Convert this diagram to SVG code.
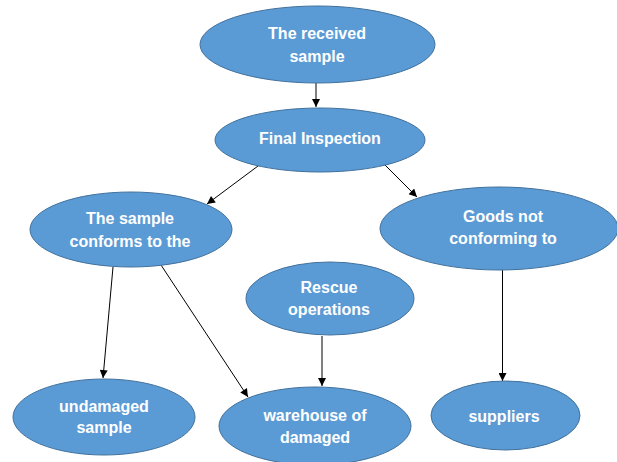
<svg xmlns="http://www.w3.org/2000/svg" width="617" height="462" viewBox="0 0 617 462">
<style>
.n{fill:#5B9BD5;stroke:#41719C;stroke-width:1}
.t{fill:#fff;font-family:"Liberation Sans",Arial,sans-serif;font-weight:bold;font-size:16px;text-anchor:middle}
.c{stroke:#000;stroke-width:1;fill:none;marker-end:url(#ah)}
</style>
<defs>
<marker id="ah" viewBox="0 0 10 10" refX="10" refY="5" markerWidth="9" markerHeight="8" markerUnits="userSpaceOnUse" orient="auto">
<path d="M0,0L10,5L0,10z" fill="#000"/>
</marker>
</defs>
<rect width="617" height="462" fill="#fff"/>
<g id="connectors">
<line class="c" x1="316" y1="83" x2="316" y2="107"/>
<line class="c" x1="258" y1="166" x2="207" y2="204"/>
<line class="c" x1="385" y1="165" x2="417" y2="197"/>
<line class="c" x1="113" y1="267" x2="103" y2="378"/>
<line class="c" x1="161" y1="265" x2="248" y2="397"/>
<line class="c" x1="322" y1="336" x2="322" y2="386"/>
<line class="c" x1="502.5" y1="270" x2="502.5" y2="381"/>
</g>
<g id="received">
<ellipse class="n" cx="317.5" cy="44.5" rx="117.5" ry="38.5"/>
<text class="t" x="317" y="39">The received</text>
<text class="t" x="317" y="62">sample</text>
</g>
<g id="final">
<ellipse class="n" cx="320" cy="140" rx="105" ry="32"/>
<text class="t" x="320" y="144">Final Inspection</text>
</g>
<g id="conforms">
<ellipse class="n" cx="131" cy="229.5" rx="101" ry="37.5"/>
<text class="t" x="130" y="224">The sample</text>
<text class="t" x="130" y="247">conforms to the</text>
</g>
<g id="goods">
<ellipse class="n" cx="499" cy="228.5" rx="119" ry="41.5"/>
<text class="t" x="503" y="222">Goods not</text>
<text class="t" x="503" y="244">conforming to</text>
</g>
<g id="rescue">
<ellipse class="n" cx="330" cy="298.5" rx="84" ry="36.5"/>
<text class="t" x="329" y="293">Rescue</text>
<text class="t" x="329" y="315">operations</text>
</g>
<g id="undamaged">
<ellipse class="n" cx="104" cy="417" rx="91" ry="38"/>
<text class="t" x="104" y="412">undamaged</text>
<text class="t" x="104" y="433">sample</text>
</g>
<g id="warehouse">
<ellipse class="n" cx="315" cy="426" rx="96" ry="39"/>
<text class="t" x="315" y="421">warehouse of</text>
<text class="t" x="315" y="443">damaged</text>
</g>
<g id="suppliers">
<ellipse class="n" cx="505.5" cy="415.5" rx="74.5" ry="34.5"/>
<text class="t" x="504" y="422">suppliers</text>
</g>
</svg>
